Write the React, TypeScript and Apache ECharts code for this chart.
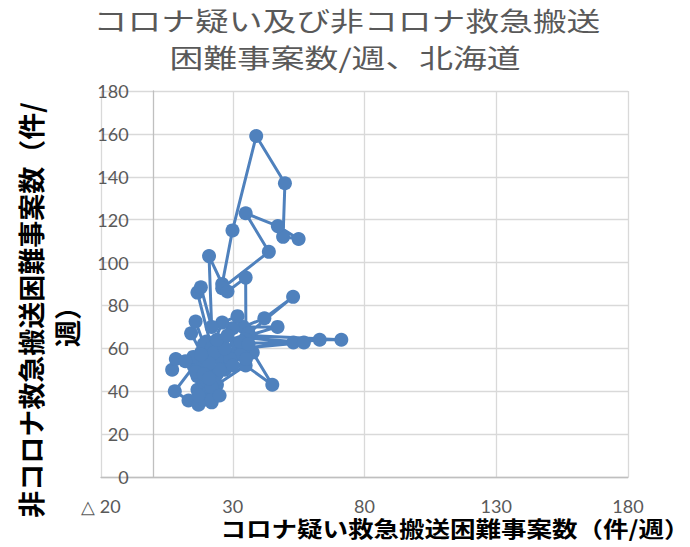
import React, { useEffect, useRef } from 'react';
import * as echarts from 'echarts';

const titleLines = ['コロナ疑い及び非コロナ救急搬送', '困難事案数/週、北海道'];
const xAxisTitle = 'コロナ疑い救急搬送困難事案数（件/週）';
const yAxisTitleLines = ['非コロナ救急搬送困難事案数（件/', '週）'];

// x: コロナ疑い救急搬送困難事案数 (weekly), y: 非コロナ救急搬送困難事案数 (weekly)
const coronaSuspect = [
  7, 8.4, 15.2, 8, 13.2, 17, 16.6, 16.6, 22, 19.3, 20.6, 24, 34.9, 45, 37.6, 24, 27.4, 20, 18, 14.2,
  15.9, 19, 22, 18, 15, 21, 19, 23, 25, 30, 31.5, 53, 35, 57, 34, 63, 71.2, 36, 47, 34,
  42, 52.9, 36, 30, 31.8, 26, 22, 16.6, 17.9, 22, 21, 26, 29.9, 38.9, 49.8, 49.1, 55, 47.1, 34.9, 43.7,
  26, 28, 34.9, 35, 33, 27, 20, 17, 22, 24, 29, 26, 20, 16, 12,
  23, 27, 33, 36, 30, 25, 21, 19, 22, 25, 21, 18, 24, 28, 35,
];
const nonCorona = [
  50, 55, 51.6, 40, 35.7, 33.7, 40.7, 47, 34.8, 44, 50, 43, 52, 43, 58, 57, 54, 63.2, 58, 67,
  72.5, 62, 47, 52, 56, 40, 36, 45, 55, 57, 62.4, 62.7, 65, 62.7, 60, 64, 64, 66, 70, 70,
  74, 84, 67, 69.4, 75, 72, 60, 86, 88.5, 70, 103, 90, 115, 159, 137, 112, 111, 117, 123, 105,
  88, 86.5, 93, 64, 57, 50, 45, 38, 36, 48, 55, 62, 55, 49, 54,
  58, 60, 63, 62, 52, 50, 53, 48, 42, 38, 46, 57, 64, 66, 55,
];

const xMin = -20;
const xMax = 180;
const xStep = 50;
const yMin = 0;
const yMax = 180;
const yStep = 20;

export default function App() {
  const ref = useRef<HTMLDivElement>(null);
  useEffect(() => {
    if (!ref.current) return;
    const chart = echarts.init(ref.current, undefined, { renderer: 'svg' });
    const data = coronaSuspect.map((x, i) => [x, nonCorona[i]]);
    const labelFont = 'Lato, "Liberation Sans", sans-serif';
    const gridLeft = 101;
    const gridRight = 62;
    const plotWidth = 690 - gridLeft - gridRight;
    const zeroOffset = ((0 - xMin) / (xMax - xMin)) * plotWidth;
    chart.setOption({
      animation: false,
      backgroundColor: '#ffffff',
      grid: { left: gridLeft, right: gridRight, top: 91, bottom: 70, containLabel: false },
      xAxis: {
        type: 'value',
        min: xMin,
        max: xMax,
        interval: xStep,
        axisLine: { show: true, onZero: false, lineStyle: { color: '#bfbfbf', width: 1.3 } },
        axisTick: { show: false },
        splitLine: { show: true, lineStyle: { color: '#d9d9d9', width: 1.3 } },
        axisLabel: {
          margin: 20,
          color: '#595959',
          fontSize: 18,
          fontFamily: labelFont,
          formatter: (v: number) => (v < 0 ? '△ ' + Math.abs(v) : String(v)),
        },
      },
      yAxis: {
        type: 'value',
        min: yMin,
        max: yMax,
        interval: yStep,
        offset: -zeroOffset,
        axisLine: { show: true, onZero: false, lineStyle: { color: '#bfbfbf', width: 1.3 } },
        axisTick: { show: false },
        splitLine: { show: true, lineStyle: { color: '#d9d9d9', width: 1.3 } },
        axisLabel: {
          margin: 25,
          color: '#595959',
          fontSize: 18,
          fontFamily: labelFont,
        },
      },
      series: [
        {
          type: 'line',
          data,
          symbol: 'circle',
          symbolSize: 14,
          showAllSymbol: true,
          lineStyle: { color: '#4f81bd', width: 3 },
          itemStyle: { color: '#4f81bd' },
          z: 3,
        },
      ],
      graphic: [
        {
          type: 'text',
          x: 347,
          y: 20,
          scaleX: 1.3,
          style: {
            text: titleLines[0],
            font: '26px "Noto Sans CJK JP"',
            fill: '#595959',
            align: 'center',
            verticalAlign: 'middle',
          },
        },
        {
          type: 'text',
          x: 345,
          y: 57,
          scaleX: 1.3,
          style: {
            text: titleLines[1],
            font: '26px "Noto Sans CJK JP"',
            fill: '#595959',
            align: 'center',
            verticalAlign: 'middle',
          },
        },
        {
          type: 'text',
          x: 455,
          y: 527,
          scaleX: 1.16,
          style: {
            text: xAxisTitle,
            font: 'bold 22px "Noto Sans CJK JP"',
            fill: '#000000',
            align: 'center',
            verticalAlign: 'middle',
          },
        },
        {
          type: 'text',
          x: 30,
          y: 310,
          rotation: Math.PI / 2,
          style: {
            text: yAxisTitleLines[0],
            font: 'bold 27px "Noto Sans CJK JP"',
            fill: '#000000',
            align: 'center',
            verticalAlign: 'middle',
          },
        },
        {
          type: 'text',
          x: 66,
          y: 320,
          rotation: Math.PI / 2,
          style: {
            text: yAxisTitleLines[1],
            font: 'bold 27px "Noto Sans CJK JP"',
            fill: '#000000',
            align: 'center',
            verticalAlign: 'middle',
          },
        },
      ],
    });
    return () => chart.dispose();
  }, []);
  return <div ref={ref} style={{ width: 690, height: 547, position: 'absolute', left: 0, top: 0 }} />;
}
